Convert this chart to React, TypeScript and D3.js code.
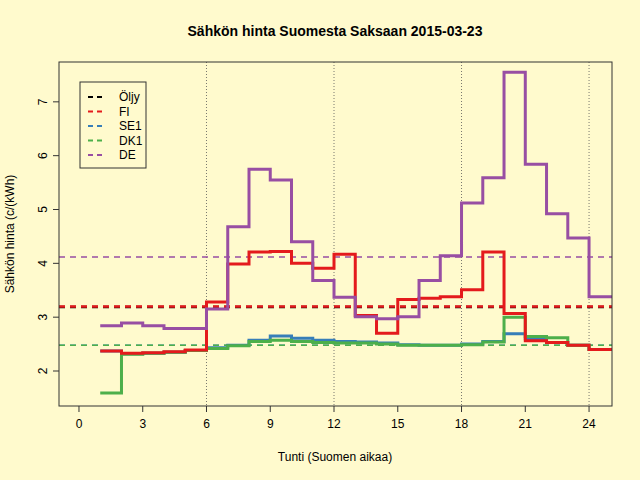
import * as d3 from 'd3'

const hours = d3.range(1, 25)
const fi = [2.37, 2.33, 2.34, 2.36, 2.39, 3.28, 3.99, 4.21, 4.22, 4.0, 3.91, 4.17, 3.03, 2.7, 3.33, 3.35, 3.38, 3.51, 4.21, 3.07, 2.56, 2.53, 2.48, 2.4]
const se1 = [2.37, 2.32, 2.33, 2.35, 2.38, 2.43, 2.48, 2.57, 2.65, 2.61, 2.57, 2.55, 2.54, 2.52, 2.49, 2.48, 2.48, 2.5, 2.55, 2.69, 2.6, 2.53, 2.48, 2.4]
const dk1 = [1.59, 2.31, 2.33, 2.35, 2.38, 2.42, 2.47, 2.55, 2.57, 2.55, 2.53, 2.52, 2.52, 2.5, 2.48, 2.48, 2.48, 2.49, 2.54, 3.0, 2.64, 2.62, 2.48, 2.4]
const de = [2.84, 2.89, 2.84, 2.79, 2.79, 3.15, 4.68, 5.75, 5.55, 4.4, 3.68, 3.37, 3.01, 2.97, 3.01, 3.68, 4.14, 5.12, 5.59, 7.55, 5.84, 4.92, 4.47, 3.38]
const averages = [
  { name: 'Öljy', value: 3.19, color: '#000000', w: 2.5 },
  { name: 'FI', value: 3.2, color: '#E41A1C', w: 2.5 },
  { name: 'SE1', value: 2.48, color: '#377EB8', w: 1.5 },
  { name: 'DK1', value: 2.48, color: '#4DAF4A', w: 1.5 },
  { name: 'DE', value: 4.12, color: '#984EA3', w: 1.5 },
]
const series = [
  { name: 'SE1', values: se1, color: '#377EB8' },
  { name: 'DK1', values: dk1, color: '#4DAF4A' },
  { name: 'FI', values: fi, color: '#E41A1C' },
  { name: 'DE', values: de, color: '#984EA3' },
]
const xTicks = [0, 3, 6, 9, 12, 15, 18, 21, 24]
const yTicks = [2, 3, 4, 5, 6, 7]
const vLines = [6, 12, 18, 24]

const BG = '#FFFACD'
const L = 59, R = 612, T = 62, B = 406

export default function App() {
  const x = d3.scaleLinear().domain([-0.94, 25.08]).range([L, R])
  const y = d3.scaleLinear().domain([1.35, 7.74]).range([B, T])
  const step = (vals: number[]) => {
    const pts: [number, number][] = []
    vals.forEach((v, i) => {
      pts.push([hours[i], v])
      pts.push([hours[i] + 1, v])
    })
    pts.push([26, vals[vals.length - 1]])
    return d3.line<[number, number]>().x(d => x(d[0])).y(d => y(d[1]))(pts)!
  }
  const font = 'Liberation Sans, Arial, sans-serif'
  return (
    <svg width={640} height={480} style={{ position: 'absolute', left: 0, top: 0, background: BG }} fontFamily={font}>
      <rect width={640} height={480} fill={BG} />
      <defs>
        <clipPath id="plot"><rect x={L} y={T} width={R - L} height={B - T} /></clipPath>
      </defs>
      <g clipPath="url(#plot)">
        {vLines.map(v => (
          <line key={v} x1={x(v)} x2={x(v)} y1={T} y2={B} stroke="#555" strokeWidth={0.8} strokeDasharray="1,2" />
        ))}
        {averages.map(a => (
          <line key={a.name} x1={L} x2={R} y1={y(a.value)} y2={y(a.value)} stroke={a.color} strokeWidth={a.w} strokeDasharray="6,5" />
        ))}
        {series.map(s => (
          <path key={s.name} d={step(s.values)} fill="none" stroke={s.color} strokeWidth={3} strokeLinejoin="miter" strokeLinecap="butt" />
        ))}
      </g>
      <rect x={L} y={T} width={R - L} height={B - T} fill="none" stroke="#333" />
      {xTicks.map(t => (
        <g key={t}>
          <line x1={x(t)} x2={x(t)} y1={B} y2={B + 6} stroke="#333" />
          <text x={x(t)} y={B + 22} textAnchor="middle" fontSize={12}>{t}</text>
        </g>
      ))}
      {yTicks.map(t => (
        <g key={t}>
          <line x1={L - 6} x2={L} y1={y(t)} y2={y(t)} stroke="#333" />
          <text x={L - 16} y={y(t)} textAnchor="middle" fontSize={12} transform={`rotate(-90 ${L - 16} ${y(t)})`} dy="0.35em">{t}</text>
        </g>
      ))}
      <text x={335} y={36} textAnchor="middle" fontSize={14} fontWeight="bold">Sähkön hinta Suomesta Saksaan 2015-03-23</text>
      <text x={335} y={461} textAnchor="middle" fontSize={12}>Tunti (Suomen aikaa)</text>
      <text transform="translate(14 234) rotate(-90)" textAnchor="middle" fontSize={12}>Sähkön hinta (c/(kWh)</text>
      <rect x={80} y={82} width={66} height={86} fill={BG} stroke="#333" />
      {averages.map((a, i) => (
        <g key={a.name}>
          <line x1={88} x2={106} y1={97 + i * 14.5} y2={97 + i * 14.5} stroke={a.color} strokeWidth={2} strokeDasharray="5,4" />
          <text x={119} y={97 + i * 14.5} dy="0.35em" fontSize={12}>{a.name}</text>
        </g>
      ))}
    </svg>
  )
}
